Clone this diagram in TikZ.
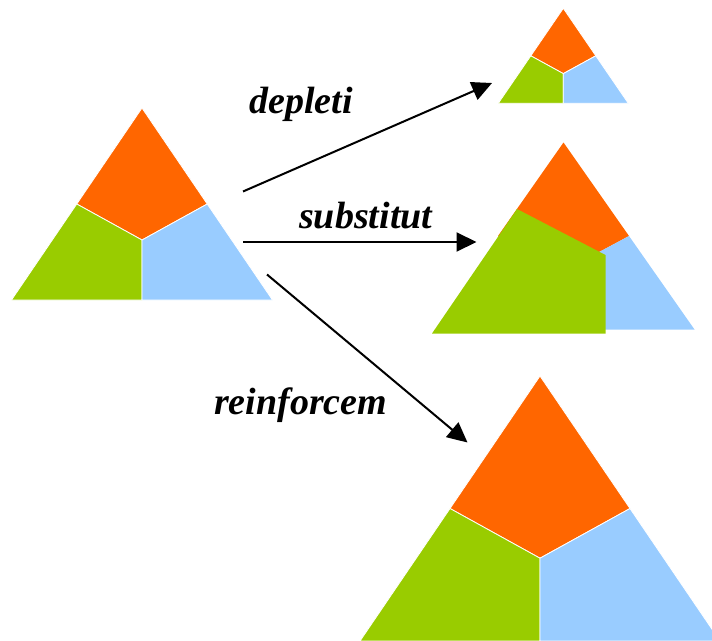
\documentclass[tikz,border=0pt]{standalone}
\usepackage{fontspec}
\setmainfont{Liberation Serif}
\usetikzlibrary{arrows.meta}
\definecolor{orng}{HTML}{FF6600}
\definecolor{grn}{HTML}{99CC00}
\definecolor{blu}{HTML}{99CCFF}
\tikzset{
  seg/.style={draw=white, line width=0.8pt, line join=round},
  flow/.style={line width=2pt, -{Triangle[length=20pt,width=19pt]}},
  lbl/.style={inner sep=0pt, anchor=base west, font=\fontsize{38}{38}\selectfont\bfseries\itshape},
}
\newcommand{\mytriad}[4]{%
  \begin{scope}[shift={(#1,#2)}, xscale=#4, yscale=#3]
    \path[seg, fill=orng] (0,0) -- (0.5,0.5) -- (0,0.6875) -- (-0.5,0.5) -- cycle;
    \path[seg, fill=grn] (-0.5,0.5) -- (0,0.6875) -- (0,1) -- (-1,1) -- cycle;
    \path[seg, fill=blu] (0.5,0.5) -- (0,0.6875) -- (0,1) -- (1,1) -- cycle;
  \end{scope}}
\begin{document}
\begin{tikzpicture}[x=1pt, y=-1pt]
  \useasboundingbox (0,0) rectangle (712,640);
  \clip (0,0) rectangle (712,640);
  % left triangle
  \mytriad{142}{108}{192}{130.5}
  % small (depletion)
  \mytriad{563.3}{8.3}{95}{65}
  % large (reinforcement)
  \mytriad{540}{376}{265}{180}
  % middle (substitution)
  \begin{scope}[shift={(563.5,142.5)}, xscale=131, yscale=187]
    \fill[orng] (0,0) -- (0.5,0.5) -- (0,0.6875) -- (-0.5,0.5) -- cycle;
    \fill[blu] (0.5,0.5) -- (0,0.6875) -- (0,1) -- (1,1) -- cycle;
  \end{scope}
  \fill[grn] (517,209) -- (605.5,255) -- (605.5,333.5) -- (432,333.5) -- cycle;
  % arrows
  \coordinate (dS) at (243,191.5);
  \coordinate (dE) at (492,83);
  \coordinate (sS) at (243,242);
  \coordinate (sE) at (476.5,242);
  \coordinate (rS) at (267,274.5);
  \coordinate (rE) at (467.5,442.5);
  \draw[flow] (dS) -- (dE);
  \draw[flow] (sS) -- (sE);
  \draw[flow] (rS) -- (rE);
  % labels
  \node[lbl] (ld) at (249,113) {depleti};
  \node[lbl] (ls) at (299,228.5) {substitut};
  \node[lbl] (lr) at (214,414) {reinforcem};
\end{tikzpicture}
\end{document}
